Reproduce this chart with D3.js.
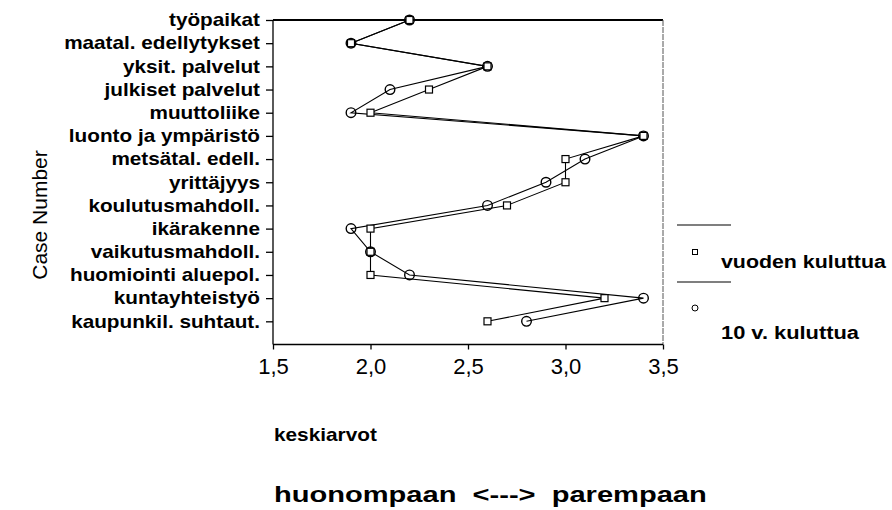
<!DOCTYPE html>
<html>
<head>
<meta charset="utf-8">
<script src="https://cdn.jsdelivr.net/npm/d3@7"></script>
<style>
  body { margin: 0; background: #fff; }
  svg { font-family: "Liberation Sans", Arial, sans-serif; }
</style>
</head>
<body>
<svg id="chart" width="892" height="510"></svg>
<script>
// categories, top to bottom
var categories = ["työpaikat", "maatal. edellytykset", "yksit. palvelut", "julkiset palvelut",
    "muuttoliike", "luonto ja ympäristö", "metsätal. edell.", "yrittäjyys",
    "koulutusmahdoll.", "ikärakenne", "vaikutusmahdoll.", "huomiointi aluepol.",
    "kuntayhteistyö", "kaupunkil. suhtaut."];
// series: vuoden kuluttua (squares), 10 v. kuluttua (circles)
var vuodenKuluttua = [2.2, 1.9, 2.6, 2.3, 2.0, 3.4, 3.0, 3.0, 2.7, 2.0, 2.0, 2.0, 3.2, 2.6];
var kymmenenKuluttua = [2.2, 1.9, 2.6, 2.1, 1.9, 3.4, 3.1, 2.9, 2.6, 1.9, 2.0, 2.2, 3.4, 2.8];
var xTicks = [1.5, 2.0, 2.5, 3.0, 3.5];

var svg = d3.select("#chart");
var plotLeft = 273, plotRight = 663, plotTop = 20, plotBottom = 344.5;

var x = d3.scaleLinear().domain([1.5, 3.5]).range([plotLeft, plotRight]);
var y = d3.scaleLinear().domain([0, 14]).range([plotTop, plotBottom]);

// the scanned original has its text stretched sideways; stretch ours to the same width
function stretch(sel, width, ax) {
    sel.each(function () {
        var len = this.getComputedTextLength();
        var s = width / len;
        d3.select(this).attr("transform",
            "translate(" + ax + ",0) scale(" + s + ",1) translate(" + (-ax) + ",0)");
    });
}

// frame
svg.append("line").attr("x1", plotLeft).attr("x2", plotRight).attr("y1", plotTop).attr("y2", plotTop)
    .attr("stroke", "#000").attr("stroke-width", 2);
svg.append("line").attr("x1", plotRight).attr("x2", plotRight).attr("y1", plotTop).attr("y2", plotBottom)
    .attr("stroke", "#555").attr("stroke-width", 1).attr("stroke-dasharray", "6,1");

// y axis
var yAxis = svg.append("g").attr("transform", "translate(" + plotLeft + ",0)")
    .call(d3.axisLeft(y).tickValues(d3.range(categories.length))
        .tickFormat(function (i) { return categories[i]; })
        .tickSize(7).tickPadding(6));
yAxis.select(".domain").attr("d", "M0," + plotTop + "V" + plotBottom).attr("stroke-width", 1.3);
yAxis.selectAll(".tick line").attr("stroke-width", 1.3);
var yLabels = yAxis.selectAll("text").attr("font-size", "18px").attr("font-weight", "bold")
    .attr("fill", "#000").attr("font-family", "Liberation Sans, Arial, sans-serif");
var maxLen = d3.max(yLabels.nodes(), function (n) { return n.getComputedTextLength(); });
var ySx = 196 / maxLen;
yLabels.attr("transform", "translate(-13,0) scale(" + ySx + ",1) translate(13,0)");

// x axis
var xAxis = svg.append("g").attr("transform", "translate(0," + plotBottom + ")")
    .call(d3.axisBottom(x).tickValues(xTicks)
        .tickFormat(function (d) { return d3.format(".1f")(d).replace(".", ","); })
        .tickSize(5).tickPadding(9));
xAxis.select(".domain").attr("d", "M" + plotLeft + ",0H" + plotRight).attr("stroke-width", 1.6);
xAxis.selectAll("text").attr("font-size", "22px").attr("fill", "#000")
    .attr("font-family", "Liberation Sans, Arial, sans-serif");
xAxis.selectAll(".tick line").attr("stroke-width", 1.3);

// lines
var line = d3.line()
    .x(function (d) { return x(d); })
    .y(function (d, i) { return y(i); });

svg.append("path").attr("d", line(vuodenKuluttua))
    .attr("fill", "none").attr("stroke", "#000").attr("stroke-width", 1.1);
svg.append("path").attr("d", line(kymmenenKuluttua))
    .attr("fill", "none").attr("stroke", "#000").attr("stroke-width", 1.1);

// square markers
svg.selectAll("rect.sq").data(vuodenKuluttua).enter().append("rect")
    .attr("class", "sq")
    .attr("x", function (d) { return x(d) - 3.5; })
    .attr("y", function (d, i) { return y(i) - 3.5; })
    .attr("width", 7).attr("height", 7)
    .attr("fill", "#fff").attr("stroke", "#000").attr("stroke-width", 1.2);

// circle markers
svg.selectAll("circle.ci").data(kymmenenKuluttua).enter().append("circle")
    .attr("class", "ci")
    .attr("cx", function (d) { return x(d); })
    .attr("cy", function (d, i) { return y(i); })
    .attr("r", 4.8)
    .attr("fill", "none").attr("stroke", "#000").attr("stroke-width", 1.4);

// legend
var legend = svg.append("g");
legend.append("line").attr("x1", 677).attr("x2", 731).attr("y1", 225).attr("y2", 225)
    .attr("stroke", "#000").attr("stroke-width", 1.2);
legend.append("line").attr("x1", 677).attr("x2", 731).attr("y1", 282).attr("y2", 282)
    .attr("stroke", "#000").attr("stroke-width", 1.2);
legend.append("rect").attr("x", 692.5).attr("y", 249.5).attr("width", 5).attr("height", 5)
    .attr("fill", "#fff").attr("stroke", "#000").attr("stroke-width", 1);
legend.append("circle").attr("cx", 695).attr("cy", 308).attr("r", 3)
    .attr("fill", "none").attr("stroke", "#000").attr("stroke-width", 1);
legend.append("text").attr("x", 721).attr("y", 268).text("vuoden kuluttua")
    .attr("font-size", "19px").attr("font-weight", "bold").call(stretch, 165, 721);
legend.append("text").attr("x", 721).attr("y", 339).text("10 v. kuluttua")
    .attr("font-size", "19px").attr("font-weight", "bold").call(stretch, 138, 721);

// titles
svg.append("text").attr("transform", "translate(47,215) rotate(-90)")
    .attr("text-anchor", "middle").attr("font-size", "21px").text("Case Number");
svg.append("text").attr("x", 274).attr("y", 441).attr("font-size", "18px")
    .attr("font-weight", "bold").text("keskiarvot").call(stretch, 103, 274);
svg.append("text").attr("x", 274).attr("y", 502).attr("font-size", "22px")
    .attr("font-weight", "bold").attr("xml:space", "preserve")
    .text("huonompaan  <--->  parempaan").call(stretch, 433, 274);
</script>
</body>
</html>
